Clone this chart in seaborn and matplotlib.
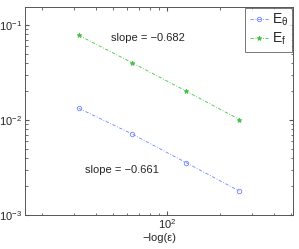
import numpy as np
import pandas as pd
import seaborn as sns
import matplotlib
matplotlib.use("Agg")
import matplotlib.pyplot as plt

# veriler
eps_inv = [32, 64, 128, 256]
E_theta = [0.0133, 0.0071, 0.00356, 0.00178]
E_f = [0.078, 0.040, 0.0202, 0.0101]
slope_theta = "slope = \u22120.661"
slope_f = "slope = \u22120.682"

df = pd.DataFrame({"x": eps_inv * 2,
                   "E": E_theta + E_f,
                   "seri": ["$\\mathregular{E_\\theta}$"] * 4 + ["$\\mathregular{E_f}$"] * 4})

sns.set_style("ticks")
plt.rcParams["font.family"] = ["Liberation Sans", "DejaVu Sans"]
plt.rcParams["mathtext.fontset"] = "custom"
plt.rcParams["mathtext.rm"] = "Liberation Sans"
plt.rcParams["mathtext.it"] = "Liberation Sans"

fig = plt.figure(figsize=(2.99, 2.49), dpi=100)
ax = fig.add_axes([0.084, 0.137, 0.896, 0.835])

renkler = ["#6b85ff", "#45c045"]
isaretler = ["o", "*"]
for (ad, g), c, m in zip(df.groupby("seri", sort=False), renkler, isaretler):
    sns.lineplot(data=g, x="x", y="E", ax=ax, color=c, lw=0.6,
                 marker=m, markersize=3.2 if m == "o" else 3.5,
                 markerfacecolor="none" if m == "o" else c,
                 markeredgecolor=c, markeredgewidth=0.6, label=ad)
for ln in ax.get_lines():
    ln.set_dashes((4, 2, 1, 2))

ax.set_xscale("log")
ax.set_yscale("log")
ax.set_xlim(16, 512)
ax.set_ylim(1e-3, 0.155)
ax.set_xlabel("\u2212log(\u03b5)", fontsize=8, labelpad=1)
ax.set_ylabel("")
ax.tick_params(which="both", direction="in", top=True, right=True, labelsize=8,
               color="#555555", pad=2)
ax.tick_params(which="major", length=3)
ax.tick_params(which="minor", length=1.8)
for s in ax.spines.values():
    s.set_color("#555555")
    s.set_linewidth(0.7)

ax.text(0.32, 0.85, slope_f, transform=ax.transAxes, fontsize=8, va="center")
ax.text(0.225, 0.215, slope_theta, transform=ax.transAxes, fontsize=8, va="center")

leg = ax.legend(loc="upper right", fontsize=10, frameon=True, fancybox=False,
                handlelength=1.3, handletextpad=0.3, borderpad=0.3,
                labelspacing=0.2, borderaxespad=0.05)
leg.get_frame().set_edgecolor("#555555")
leg.get_frame().set_linewidth(0.7)

fig.savefig("out.png", dpi=100)
